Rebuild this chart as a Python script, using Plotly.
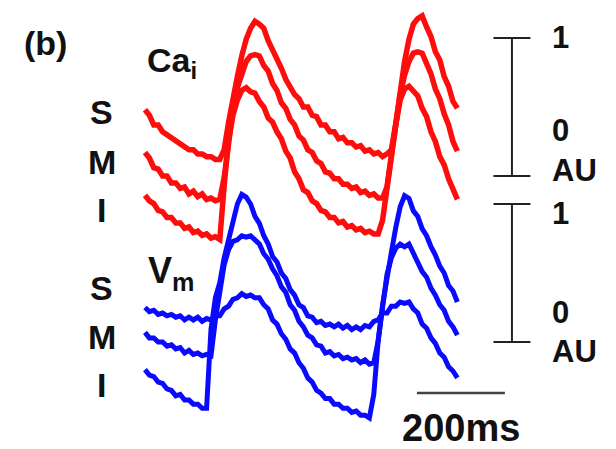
import plotly.graph_objects as go

# ---------------- data (time in ms, signals in AU) ----------------
T_MS = list(range(0, 720, 10))

CA_S = [0.48, 0.44, 0.37, 0.37, 0.32, 0.30, 0.27, 0.26, 0.23, 0.22, 0.19, 0.19,
        0.16, 0.16, 0.14, 0.14, 0.12, 0.12, 0.19, 0.39, 0.57, 0.72, 0.87, 0.99,
        1.07, 1.12, 1.10, 1.07, 0.98, 0.92, 0.84, 0.78, 0.70, 0.65, 0.59, 0.56,
        0.50, 0.50, 0.44, 0.43, 0.37, 0.37, 0.32, 0.32, 0.27, 0.28, 0.24, 0.24,
        0.21, 0.22, 0.18, 0.19, 0.16, 0.17, 0.14, 0.16, 0.19, 0.38, 0.62, 0.83,
        0.99, 1.10, 1.14, 1.16, 1.08, 1.01, 0.90, 0.84, 0.72, 0.65, 0.54, 0.49]
CA_M = [0.17, 0.13, 0.06, 0.05, 0.00, 0.00, -0.05, -0.05, -0.09, -0.08, -0.13, -0.11,
        -0.15, -0.13, -0.17, -0.16, -0.18, -0.17, -0.01, 0.26, 0.48, 0.64, 0.75, 0.83,
        0.87, 0.88, 0.87, 0.80, 0.76, 0.67, 0.62, 0.53, 0.49, 0.41, 0.37, 0.29,
        0.26, 0.19, 0.17, 0.11, 0.09, 0.03, 0.02, -0.02, -0.02, -0.06, -0.06, -0.09,
        -0.08, -0.12, -0.11, -0.14, -0.13, -0.16, -0.16, -0.08, 0.15, 0.38, 0.59, 0.73,
        0.83, 0.89, 0.90, 0.89, 0.81, 0.74, 0.63, 0.56, 0.45, 0.37, 0.25, 0.18]
CA_I = [-0.14, -0.18, -0.20, -0.25, -0.26, -0.30, -0.30, -0.34, -0.34, -0.38, -0.37, -0.41,
        -0.40, -0.43, -0.42, -0.45, -0.44, -0.46, -0.07, 0.26, 0.44, 0.55, 0.62, 0.64,
        0.61, 0.60, 0.54, 0.50, 0.42, 0.39, 0.32, 0.27, 0.18, 0.13, 0.03, -0.02,
        -0.10, -0.12, -0.18, -0.20, -0.25, -0.26, -0.30, -0.30, -0.34, -0.33, -0.37, -0.36,
        -0.39, -0.38, -0.41, -0.40, -0.42, -0.42, -0.32, -0.08, 0.15, 0.37, 0.55, 0.63,
        0.65, 0.61, 0.58, 0.49, 0.43, 0.32, 0.25, 0.14, 0.08, -0.02, -0.09, -0.17]

VM_S = [0.25, 0.22, 0.23, 0.20, 0.21, 0.19, 0.20, 0.18, 0.19, 0.16, 0.18, 0.16,
        0.18, 0.15, 0.17, 0.16, 0.19, 0.19, 0.24, 0.26, 0.31, 0.32, 0.35, 0.33,
        0.34, 0.32, 0.32, 0.27, 0.24, 0.16, 0.13, 0.06, 0.02, -0.05, -0.08, -0.15,
        -0.19, -0.26, -0.29, -0.35, -0.37, -0.41, -0.41, -0.45, -0.45, -0.48, -0.48, -0.51,
        -0.50, -0.53, -0.53, -0.55, -0.38, 0.01, 0.27, 0.48, 0.65, 0.83, 0.98, 1.06,
        1.04, 0.95, 0.91, 0.82, 0.77, 0.69, 0.63, 0.55, 0.50, 0.41, 0.37, 0.29]
VM_M = [0.07, 0.03, 0.03, 0.00, 0.00, -0.03, -0.02, -0.05, -0.04, -0.08, -0.06, -0.09,
        -0.08, -0.10, -0.09, -0.10, 0.16, 0.38, 0.56, 0.67, 0.73, 0.74, 0.77, 0.76,
        0.77, 0.74, 0.71, 0.64, 0.60, 0.53, 0.48, 0.40, 0.36, 0.27, 0.23, 0.15,
        0.11, 0.05, 0.03, -0.02, -0.03, -0.08, -0.07, -0.10, -0.09, -0.12, -0.11, -0.13,
        -0.12, -0.15, -0.13, -0.16, -0.15, 0.01, 0.27, 0.49, 0.61, 0.68, 0.71, 0.69,
        0.71, 0.64, 0.59, 0.51, 0.47, 0.39, 0.34, 0.27, 0.23, 0.15, 0.11, 0.05]
VM_I = [-0.20, -0.24, -0.25, -0.29, -0.30, -0.34, -0.35, -0.39, -0.38, -0.42, -0.42, -0.45,
        -0.45, -0.48, -0.48, 0.09, 0.32, 0.43, 0.61, 0.75, 0.90, 1.00, 1.07, 1.05,
        1.00, 0.91, 0.86, 0.77, 0.71, 0.62, 0.58, 0.50, 0.46, 0.38, 0.34, 0.27,
        0.25, 0.19, 0.18, 0.14, 0.15, 0.12, 0.13, 0.11, 0.13, 0.10, 0.12, 0.09,
        0.11, 0.09, 0.12, 0.11, 0.15, 0.16, 0.21, 0.21, 0.26, 0.26, 0.29, 0.28,
        0.29, 0.24, 0.21, 0.13, 0.10, 0.03, -0.01, -0.08, -0.11, -0.18, -0.21, -0.26]

for arr in (CA_S, CA_M, CA_I, VM_S, VM_M, VM_I):
    assert len(arr) == len(T_MS)

ROW_LABELS = ["S", "M", "I"]
TIME_BAR_MS = 200
AMP_BAR_AU = 1

# ---------------- layout constants ----------------
VM_OFFSET = -1.203          # vertical stacking of the Vm group (AU)
RED = "#ff0c0c"
BLUE = "#0a0aff"
INK = "#222222"
FONT = "Liberation Sans, Arial, sans-serif"

fig = go.Figure()

for arr in (CA_S, CA_M, CA_I):
    fig.add_trace(go.Scatter(x=T_MS, y=arr, mode="lines",
                             line=dict(color=RED, width=5.5), hoverinfo="skip"))
for arr in (VM_S, VM_M, VM_I):
    fig.add_trace(go.Scatter(x=T_MS, y=[v + VM_OFFSET for v in arr], mode="lines",
                             line=dict(color=BLUE, width=5), hoverinfo="skip"))

# vertical amplitude scale bars
bar_x = 834
tick_half = 42
for base in (0, VM_OFFSET):
    fig.add_trace(go.Scatter(x=[bar_x, bar_x], y=[base, base + AMP_BAR_AU], mode="lines",
                             line=dict(color=INK, width=2), hoverinfo="skip"))
    for yy in (base, base + AMP_BAR_AU):
        fig.add_trace(go.Scatter(x=[bar_x - tick_half, bar_x + tick_half], y=[yy, yy],
                                 mode="lines", line=dict(color=INK, width=2),
                                 hoverinfo="skip"))

# time scale bar
tb_x0 = 618
tb_y = -1.572
fig.add_trace(go.Scatter(x=[tb_x0, tb_x0 + TIME_BAR_MS], y=[tb_y, tb_y], mode="lines",
                         line=dict(color="#444444", width=2.5), hoverinfo="skip"))

ann = []
def txt(x, y, s, size=30, xanchor="center", yanchor="middle"):
    ann.append(dict(x=x, y=y, xref="x", yref="y", text=s, showarrow=False,
                    xanchor=xanchor, yanchor=yanchor,
                    font=dict(family=FONT, size=size, color="#111111")))

txt(-225, 0.964, "<b>(b)</b>", size=34)
txt(0, 0.82, "<b>Ca<sub>i</sub></b>", size=34, xanchor="left")
txt(3, -0.70, "<b>V<sub>m</sub></b>", size=36, xanchor="left")

for lab, yy in zip(ROW_LABELS, (0.464, 0.101, -0.246)):
    txt(-98, yy, "<b>%s</b>" % lab, size=34)
for lab, yy in zip(ROW_LABELS, (-0.812, -1.167, -1.514)):
    txt(-98, yy, "<b>%s</b>" % lab, size=34)

lab_x = 920
txt(lab_x, 1.0, "<b>1</b>", size=31, xanchor="left")
txt(lab_x, 0.333, "<b>0</b>", size=31, xanchor="left")
txt(lab_x, 0.043, "<b>AU</b>", size=31, xanchor="left")
txt(lab_x, -0.275, "<b>1</b>", size=31, xanchor="left")
txt(lab_x, -0.986, "<b>0</b>", size=31, xanchor="left")
txt(lab_x, -1.275, "<b>AU</b>", size=31, xanchor="left")

txt(tb_x0 + TIME_BAR_MS / 2, -1.826, "<b>%dms</b>" % TIME_BAR_MS, size=38)

fig.update_layout(
    width=616, height=449,
    margin=dict(l=0, r=0, t=0, b=0),
    paper_bgcolor="white", plot_bgcolor="white",
    showlegend=False,
    xaxis=dict(range=[-329.5, 1070.5], visible=False, fixedrange=True),
    yaxis=dict(range=[-1.978, 1.275], visible=False, fixedrange=True),
    annotations=ann,
)

fig.write_html("out.html", config={"displayModeBar": False})
